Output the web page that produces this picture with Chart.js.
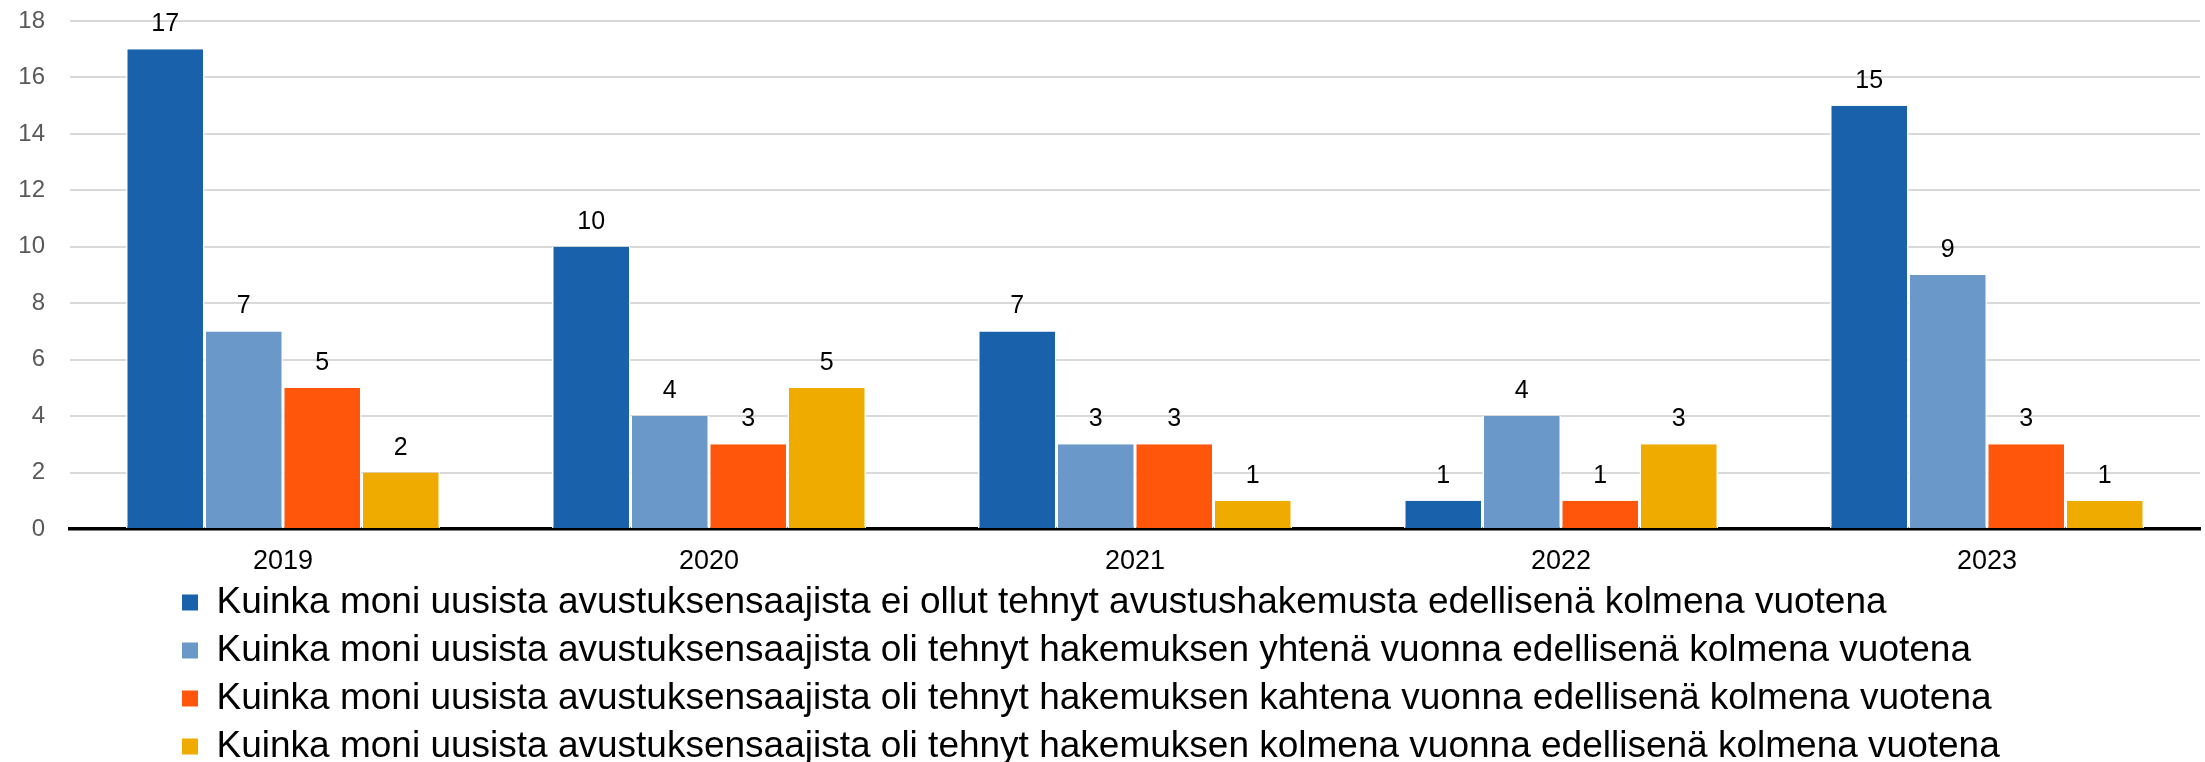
<!DOCTYPE html>
<html>
<head>
<meta charset="utf-8">
<script src="https://cdn.jsdelivr.net/npm/chart.js@4"></script>
<style>
  html, body { margin: 0; padding: 0; background: #fff; overflow: hidden; }
  #wrap { width: 2205px; height: 775px; position: relative; }
</style>
</head>
<body>
<div id="wrap"><canvas id="avustus-chart"></canvas></div>
<script>
const years = ['2019', '2020', '2021', '2022', '2023'];
const eiHakemusta = [17, 10, 7, 1, 15];
const yhtenaVuonna = [7, 4, 3, 4, 9];
const kahtenaVuonna = [5, 3, 3, 1, 3];
const kolmenaVuonna = [2, 5, 1, 3, 1];
const seriesNames = [
  'Kuinka moni uusista avustuksensaajista ei ollut tehnyt avustushakemusta edellisenä kolmena vuotena',
  'Kuinka moni uusista avustuksensaajista oli tehnyt hakemuksen yhtenä vuonna edellisenä kolmena vuotena',
  'Kuinka moni uusista avustuksensaajista oli tehnyt hakemuksen kahtena vuonna edellisenä kolmena vuotena',
  'Kuinka moni uusista avustuksensaajista oli tehnyt hakemuksen kolmena vuonna edellisenä kolmena vuotena'
];
const yTicks = [0, 2, 4, 6, 8, 10, 12, 14, 16, 18];

const colors = ['#1a61ab', '#6a98c9', '#ff560b', '#efab00'];
const FONT = '"Liberation Sans", Arial, sans-serif';

// value labels above each bar
const barLabels = {
  id: 'barLabels',
  afterDatasetsDraw(chart) {
    const ctx = chart.ctx;
    ctx.save();
    ctx.font = '25px ' + FONT;
    ctx.fillStyle = '#000';
    ctx.textAlign = 'center';
    ctx.textBaseline = 'alphabetic';
    chart.data.datasets.forEach((ds, i) => {
      chart.getDatasetMeta(i).data.forEach((bar, j) => {
        ctx.fillText(ds.data[j], bar.x, bar.y - 18);
      });
    });
    ctx.restore();
  }
};

// legend sits indented from the left edge
const legendShift = {
  id: 'legendShift',
  afterLayout(chart) {
    chart.legend.left += 171;
  }
};

const makeSet = (label, data, color) => ({
  label,
  data,
  backgroundColor: color,
  borderColor: '#fff',
  borderWidth: { left: 1.5, right: 1.5, top: 0, bottom: 0 },
  categoryPercentage: 0.737,
  barPercentage: 1
});

new Chart(document.getElementById('avustus-chart'), {
  type: 'bar',
  data: {
    labels: years,
    datasets: [
      makeSet(seriesNames[0], eiHakemusta, colors[0]),
      makeSet(seriesNames[1], yhtenaVuonna, colors[1]),
      makeSet(seriesNames[2], kahtenaVuonna, colors[2]),
      makeSet(seriesNames[3], kolmenaVuonna, colors[3])
    ]
  },
  options: {
    responsive: true,
    maintainAspectRatio: false,
    animation: false,
    layout: { padding: { top: 21, right: 5, left: 0, bottom: 0 } },
    plugins: {
      tooltip: { enabled: false },
      legend: {
        position: 'bottom',
        align: 'start',
        labels: {
          font: { family: FONT, size: 37 },
          color: '#000',
          boxWidth: 16,
          boxHeight: 16,
          padding: 11,
          generateLabels: (chart) =>
            Chart.defaults.plugins.legend.labels.generateLabels(chart)
              .map(l => ({ ...l, lineWidth: 0 }))
        }
      }
    },
    scales: {
      x: {
        grid: { display: false, drawTicks: false },
        border: { color: '#000', width: 3.5 },
        ticks: {
          font: { family: FONT, size: 27 },
          color: '#000',
          padding: 16
        },
        afterFit: (scale) => { scale.height = 44; }
      },
      y: {
        min: 0,
        max: 18,
        afterBuildTicks: (scale) => { scale.ticks = yTicks.map(v => ({ value: v })); },
        grid: { color: '#d9d9d9', lineWidth: 2, drawTicks: true, tickLength: 22, tickColor: 'rgba(0,0,0,0)' },
        border: { display: false },
        ticks: {
          font: { family: FONT, size: 24 },
          color: '#595959',
          padding: 3
        },
        afterFit: (scale) => { scale.width = 70; }
      }
    }
  },
  plugins: [barLabels, legendShift]
});
</script>
</body>
</html>
